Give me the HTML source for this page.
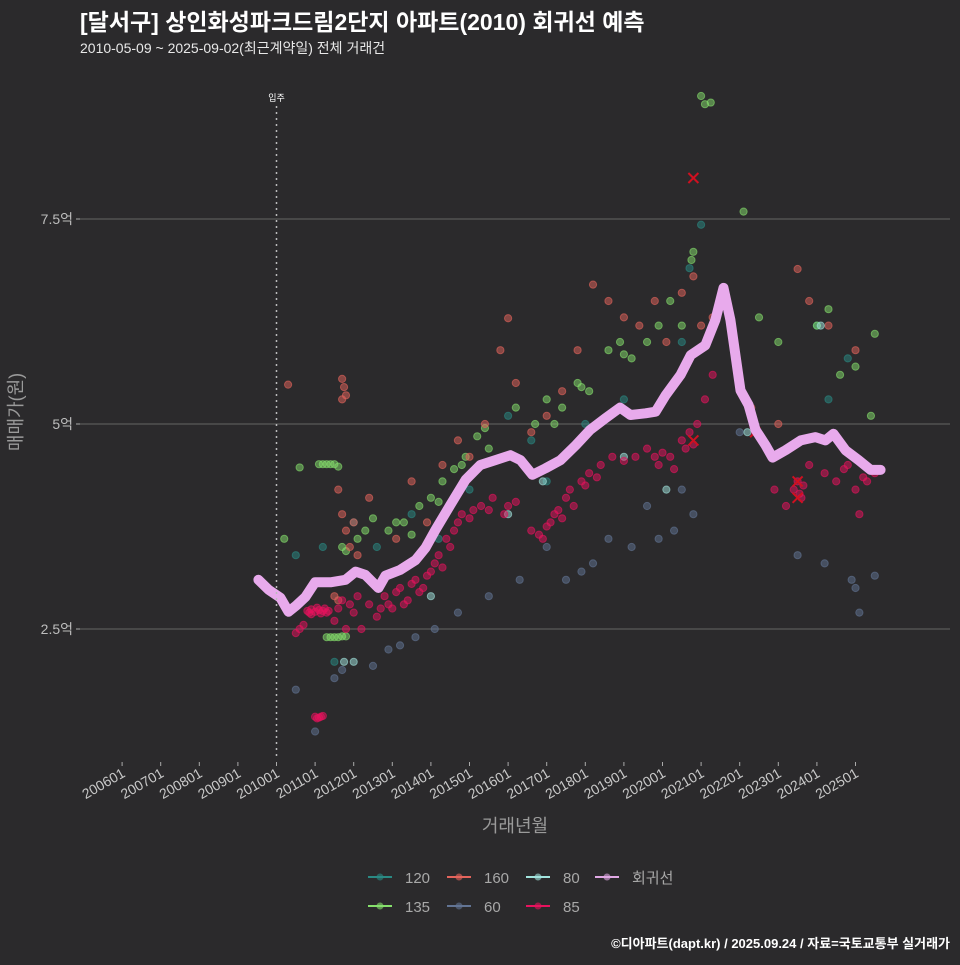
<!DOCTYPE html>
<html><head><meta charset="utf-8"><style>
body{margin:0;background:#2b2a2c;}
svg text{font-family:"Liberation Sans","Noto Sans CJK KR",sans-serif;}
</style></head><body>
<svg id="chart" width="960" height="960" xmlns="http://www.w3.org/2000/svg">
<rect width="960" height="960" fill="#2b2a2c"/>
<text x="80" y="30" fill="#ffffff" font-size="23" font-weight="bold">[달서구] 상인화성파크드림2단지 아파트(2010) 회귀선 예측</text>
<text x="80" y="53" fill="#e8e8e8" font-size="14">2010-05-09 ~ 2025-09-02(최근계약일) 전체 거래건</text>
<g id="grid"></g>
<g id="pts"></g>
<g id="reg"></g>
<g id="axes"></g>
<text x="0" y="0" transform="translate(22,412) rotate(-90)" text-anchor="middle" fill="#9a9a9a" font-size="18">매매가(원)</text>
<text x="515" y="832" text-anchor="middle" fill="#9a9a9a" font-size="18">거래년월</text>
<g id="legend"></g>
<text x="950" y="948" text-anchor="end" fill="#ffffff" font-size="13" font-weight="bold">©디아파트(dapt.kr) / 2025.09.24 / 자료=국토교통부 실거래가</text>
</svg>
<script>
const yTicks=[2.5,5,7.5];
const yTickLabels=["2.5억","5억","7.5억"];
const xTickYears=[2006,2007,2008,2009,2010,2011,2012,2013,2014,2015,2016,2017,2018,2019,2020,2021,2022,2023,2024,2025];
const moveInYear=2010.0;
const seriesNames=["120","135","160","60","80","85"];
const seriesColors=["#2a8a84","#86e06c","#e4645c","#627494","#a2e4de","#e8125e"];
const s85=[[2010.8,2.72],[2010.9,2.74],[2011.0,2.71],[2011.1,2.73],[2011.2,2.72],[2011.3,2.70],[2010.9,2.68],[2011.05,2.76],[2010.85,2.7],[2011.15,2.69],[2011.25,2.75],[2011.35,2.72],[2011.0,1.43],[2011.1,1.42],[2011.2,1.44],[2011.05,1.41],[2011.15,1.43],[2010.5,2.45],[2010.6,2.5],[2010.7,2.55],[2011.5,2.6],[2011.6,2.75],[2011.7,2.85],[2011.8,2.5],[2011.9,2.8],[2012.0,2.7],[2012.1,2.9],[2012.2,2.5],[2012.4,2.8],[2012.6,2.65],[2012.7,2.75],[2012.8,2.9],[2012.9,2.8],[2013.0,2.75],[2013.1,2.95],[2013.2,3.0],[2013.3,2.8],[2013.4,2.85],[2013.5,3.05],[2013.6,3.1],[2013.7,2.95],[2013.8,3.0],[2013.9,3.15],[2014.0,3.2],[2014.1,3.3],[2014.2,3.4],[2014.3,3.25],[2014.4,3.6],[2014.5,3.5],[2014.6,3.7],[2014.7,3.8],[2014.8,3.9],[2015.0,3.85],[2015.1,3.95],[2015.3,4.0],[2015.5,3.95],[2015.6,4.1],[2015.9,3.9],[2016.0,4.0],[2016.2,4.05],[2016.6,3.7],[2016.8,3.65],[2016.9,3.6],[2017.0,3.75],[2017.1,3.8],[2017.2,3.9],[2017.3,3.95],[2017.4,3.85],[2017.5,4.1],[2017.6,4.2],[2017.7,4.0],[2017.9,4.3],[2018.0,4.25],[2018.1,4.4],[2018.3,4.35],[2018.4,4.5],[2018.7,4.6],[2019.0,4.55],[2019.3,4.6],[2019.6,4.7],[2019.8,4.6],[2019.9,4.5],[2020.0,4.65],[2020.2,4.6],[2020.3,4.45],[2020.5,4.8],[2020.6,4.7],[2020.7,4.9],[2020.8,4.75],[2020.9,5.0],[2021.1,5.3],[2021.3,5.6],[2022.4,4.9],[2022.9,4.2],[2023.2,4.0],[2023.4,4.2],[2023.5,4.3],[2023.55,4.15],[2023.6,4.1],[2023.65,4.25],[2023.8,4.5],[2024.2,4.4],[2024.5,4.3],[2024.7,4.45],[2024.8,4.5],[2025.0,4.2],[2025.2,4.35],[2025.3,4.3],[2025.5,4.4],[2025.1,3.9]];
const s135=[[2011.1,4.51],[2011.2,4.51],[2011.3,4.51],[2011.4,4.51],[2011.5,4.51],[2011.6,4.48],[2011.3,2.40],[2011.4,2.40],[2011.5,2.40],[2011.6,2.40],[2011.7,2.41],[2011.8,2.41],[2010.2,3.6],[2010.6,4.47],[2011.7,3.5],[2011.8,3.45],[2012.1,3.6],[2012.3,3.7],[2012.5,3.85],[2012.9,3.7],[2013.1,3.8],[2013.3,3.8],[2013.5,3.65],[2013.7,4.0],[2014.0,4.1],[2014.2,4.05],[2014.3,4.3],[2014.6,4.45],[2014.8,4.5],[2014.9,4.6],[2015.2,4.85],[2015.4,4.95],[2015.5,4.7],[2016.2,5.2],[2016.7,5.0],[2017.0,5.3],[2017.2,5.0],[2017.4,5.2],[2017.8,5.5],[2017.9,5.45],[2018.1,5.4],[2018.6,5.9],[2018.9,6.0],[2019.0,5.85],[2019.2,5.8],[2019.6,6.0],[2019.9,6.2],[2020.2,6.5],[2020.5,6.2],[2020.75,7.0],[2020.8,7.1],[2021.0,9.0],[2021.1,8.9],[2021.25,8.92],[2022.1,7.59],[2022.5,6.3],[2023.0,6.0],[2024.0,6.2],[2024.3,6.4],[2024.6,5.6],[2025.0,5.7],[2025.5,6.1],[2025.4,5.1]];
const s160=[[2010.3,5.48],[2011.7,5.55],[2011.75,5.45],[2011.8,5.35],[2011.7,5.3],[2011.6,4.2],[2011.7,3.9],[2011.8,3.7],[2011.9,3.5],[2012.1,3.4],[2012.0,3.8],[2011.5,2.9],[2011.6,2.85],[2012.4,4.1],[2013.1,3.6],[2013.5,4.3],[2013.9,3.8],[2014.3,4.5],[2014.7,4.8],[2015.0,4.6],[2015.4,5.0],[2015.8,5.9],[2016.0,6.29],[2016.2,5.5],[2016.6,4.9],[2017.0,5.1],[2017.4,5.4],[2017.8,5.9],[2018.2,6.7],[2018.6,6.5],[2019.0,6.3],[2019.4,6.2],[2019.8,6.5],[2020.1,6.0],[2020.5,6.6],[2020.8,6.8],[2021.0,6.2],[2021.3,6.3],[2022.3,5.2],[2023.0,5.0],[2023.5,6.89],[2023.8,6.5],[2024.3,6.2],[2025.0,5.9]];
const s60=[[2010.5,1.76],[2011.0,1.25],[2011.5,1.9],[2011.7,2.0],[2012.5,2.05],[2012.9,2.25],[2013.2,2.3],[2013.6,2.4],[2014.1,2.5],[2014.7,2.7],[2015.5,2.9],[2016.3,3.1],[2017.0,3.5],[2017.5,3.1],[2017.9,3.2],[2018.2,3.3],[2018.6,3.6],[2019.2,3.5],[2019.6,4.0],[2019.9,3.6],[2020.3,3.7],[2020.5,4.2],[2020.8,3.9],[2022.0,4.9],[2023.5,3.4],[2024.2,3.3],[2024.9,3.1],[2025.0,3.0],[2025.1,2.7],[2025.5,3.15]];
const s120=[[2010.5,3.4],[2011.5,2.1],[2011.2,3.5],[2012.0,3.8],[2012.6,3.5],[2013.5,3.9],[2014.2,3.6],[2015.0,4.2],[2016.0,5.1],[2016.6,4.8],[2017.0,4.3],[2018.0,5.0],[2019.0,5.3],[2020.5,6.0],[2020.7,6.9],[2021.0,7.43],[2024.0,6.2],[2024.3,5.3],[2024.8,5.8]];
const s80=[[2011.75,2.1],[2012.0,2.1],[2014.0,2.9],[2016.0,3.9],[2016.9,4.3],[2019.0,4.6],[2020.1,4.2],[2022.2,4.9],[2024.1,6.2]];
const xMarks=[[2020.8,8.0],[2020.8,4.8],[2022.4,4.9],[2023.5,4.3],[2023.5,4.1]];
const regYears=[2009.53,2009.79,2010.1,2010.31,2010.52,2010.75,2011.0,2011.4,2011.79,2012.05,2012.3,2012.64,2012.82,2013.2,2013.6,2013.86,2014.12,2014.5,2014.9,2015.28,2015.67,2016.06,2016.32,2016.63,2016.97,2017.36,2017.75,2018.13,2018.52,2018.9,2019.17,2019.56,2019.82,2020.08,2020.47,2020.73,2021.11,2021.37,2021.58,2021.76,2022.02,2022.23,2022.41,2022.67,2022.85,2023.19,2023.58,2023.96,2024.22,2024.43,2024.74,2025.08,2025.39,2025.65];
const regValues=[3.10,2.98,2.88,2.71,2.79,2.89,3.07,3.07,3.10,3.20,3.16,3.0,3.15,3.22,3.34,3.49,3.71,4.01,4.32,4.50,4.56,4.62,4.56,4.38,4.46,4.56,4.74,4.93,5.07,5.20,5.11,5.13,5.15,5.35,5.60,5.84,5.96,6.27,6.66,6.27,5.41,5.23,4.93,4.74,4.59,4.68,4.80,4.84,4.80,4.88,4.68,4.56,4.44,4.44];

const NS="http://www.w3.org/2000/svg";
function X(y){return 276.5+(y-2010)*38.6;}
function Y(v){return 424-(v-5)*82;}
function mk(tag,attrs,parent){const e=document.createElementNS(NS,tag);for(const k in attrs)e.setAttribute(k,attrs[k]);parent.appendChild(e);return e;}
const grid=document.getElementById('grid'),axes=document.getElementById('axes');
yTicks.forEach((t,i)=>{
  const l=mk('line',{x1:80,x2:950,y1:Y(t),y2:Y(t),stroke:'#5a5a5a','stroke-width':1.2},grid);
  
  
  const tk=mk('line',{x1:76,x2:80,y1:Y(t),y2:Y(t),stroke:'#aaa'},axes);
  
  
  const tx=mk('text',{x:73,y:Y(t)+5,'text-anchor':'end',fill:'#bdbdbd','font-size':14},axes);
  tx.textContent=yTickLabels[i];
  
  
});
xTickYears.forEach(yr=>{
  const x=X(yr);
  const tk=mk('line',{x1:x,x2:x,y1:762,y2:766,stroke:'#aaa'},axes);
  
  
  const tx=mk('text',{x:0,y:0,transform:`translate(${x+4},${776}) rotate(-30)`,'text-anchor':'end',fill:'#c8c8c8','font-size':14},axes);
  tx.textContent=yr+'01';
  
  
});
const vl=mk('line',{x1:X(moveInYear),x2:X(moveInYear),y1:106,y2:760,stroke:'#bbbbbb','stroke-width':1.5,'stroke-dasharray':'2,4'},axes);


const vt=mk('text',{x:X(moveInYear),y:101,'text-anchor':'middle',fill:'#ffffff','font-size':9},axes);
vt.textContent='입주';



const pts=document.getElementById('pts');
const allSeries=[s120,s135,s160,s60,s80,s85];
allSeries.forEach((s,i)=>{
  s.forEach(p=>{
    const c=mk('circle',{cx:X(p[0]),cy:Y(p[1]),r:3.6,fill:seriesColors[i],'fill-opacity':0.5,stroke:seriesColors[i],'stroke-opacity':0.6},pts);
    
    
  });
});
xMarks.forEach(p=>{
  const x=X(p[0]),y=Y(p[1]);
  const g=mk('path',{d:`M${x-5},${y-5}L${x+5},${y+5}M${x-5},${y+5}L${x+5},${y-5}`,stroke:'#d01020','stroke-width':2},pts);
  
  
});
const reg=document.getElementById('reg');
const d=regYears.map((y,i)=>(i?'L':'M')+X(y).toFixed(1)+','+Y(regValues[i]).toFixed(1)).join('');
const rl=mk('path',{d:d,fill:'none',stroke:'#e8aaec','stroke-width':10,'stroke-linejoin':'round','stroke-linecap':'round'},reg);



const legend=document.getElementById('legend');
const legItems=[["120",seriesColors[0],368,877],["160",seriesColors[2],447,877],["80",seriesColors[4],526,877],["회귀선","#e0a8e4",595,877],["135",seriesColors[1],368,906],["60",seriesColors[3],447,906],["85",seriesColors[5],526,906]];
legItems.forEach(it=>{
  const g=mk('g',{},legend);
  
  
  mk('line',{x1:it[2],x2:it[2]+24,y1:it[3],y2:it[3],stroke:it[1],'stroke-width':2},g);
  mk('circle',{cx:it[2]+12,cy:it[3],r:3.5,fill:it[1],'fill-opacity':0.6},g);
  const t=mk('text',{x:it[2]+37,y:it[3]+6,fill:'#a8a8a8','font-size':15},g);
  t.textContent=it[0];
});
</script>
</body></html>
